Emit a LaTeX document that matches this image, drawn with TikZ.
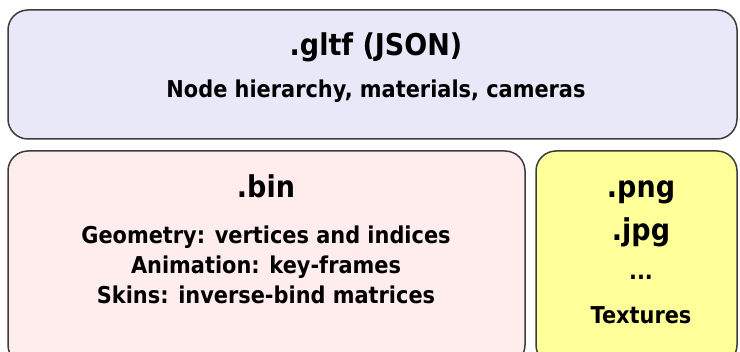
\documentclass[tikz,border=0pt]{standalone}
\usepackage{fontspec}
\setmainfont{DejaVu Sans}[FakeStretch=0.9]
\definecolor{gltffill}{RGB}{232,232,248}
\definecolor{binfill}{RGB}{255,236,236}
\definecolor{texfill}{RGB}{255,255,153}
\definecolor{edge}{RGB}{60,60,60}
\tikzset{
  box/.style={draw=edge, line width=1.5pt, rounded corners=20pt, inner sep=0pt, outer sep=0pt},
  big/.style={font=\fontsize{30}{32}\selectfont\bfseries, inner sep=0pt, anchor=base},
  small/.style={font=\fontsize{23.2}{30}\selectfont\bfseries, inner sep=0pt, anchor=base}
}
\begin{document}
\begin{tikzpicture}[x=1pt,y=-1pt]
\useasboundingbox (0,0) rectangle (740,352);
\clip (0,0) rectangle (740,352);
\node[box, fill=gltffill, minimum width=729pt, minimum height=129pt] (gltf) at (372.5,74.5) {};
\node[box, fill=binfill, minimum width=517pt, minimum height=214pt] (bin) at (266.5,258) {};
\node[box, fill=texfill, minimum width=201pt, minimum height=214pt] (tex) at (636.5,258) {};
\node[big] (t1) at (376,56) {.gltf (JSON)};
\node[small] (t2) at (376,98) {Node hierarchy, materials, cameras};
\node[big] (b1) at (266,198) {.bin};
\node[small] (b2) at (266,244) {Geometry: vertices and indices};
\node[small] (b3) at (266,274) {Animation: key-frames};
\node[small] (b4) at (266,304) {Skins: inverse-bind matrices};
\node[big] (x1) at (641,198) {.png};
\node[big] (x2) at (641,241) {.jpg};
\node[small] (x3) at (641,280) {...};
\node[small] (x4) at (641,324) {Textures};
\end{tikzpicture}
\end{document}
